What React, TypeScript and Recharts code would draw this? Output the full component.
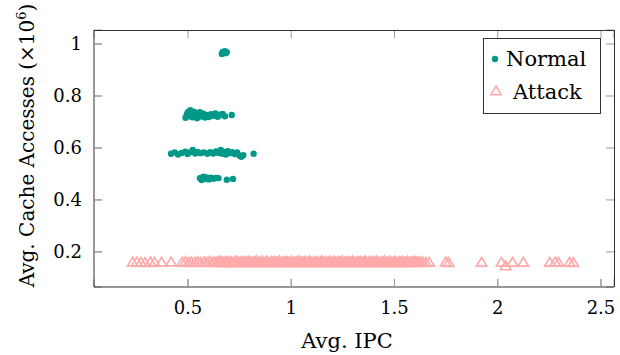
import React from 'react';
import { ScatterChart, Scatter, XAxis, YAxis, Label, Legend, CartesianGrid } from 'recharts';

const xTicks = [0.5, 1, 1.5, 2, 2.5];
const yTicks = [0.2, 0.4, 0.6, 0.8, 1];
const xDomain = [0.045, 2.563];
const yDomain = [0.065, 1.054];

// [avg IPC, avg cache accesses (x10^6)]
const normalPoints: [number, number][] = [
  [0.664, 0.962], [0.668, 0.970], [0.674, 0.966], [0.679, 0.972], [0.683, 0.965], [0.688, 0.969],
  [0.488, 0.716], [0.494, 0.728], [0.499, 0.738], [0.505, 0.722], [0.511, 0.745], [0.516, 0.731],
  [0.522, 0.718], [0.527, 0.740], [0.533, 0.726], [0.538, 0.736], [0.544, 0.714], [0.552, 0.729],
  [0.558, 0.738], [0.566, 0.721], [0.574, 0.732], [0.583, 0.717], [0.592, 0.727], [0.601, 0.719],
  [0.611, 0.730], [0.622, 0.724], [0.633, 0.733], [0.644, 0.720], [0.655, 0.728], [0.668, 0.731],
  [0.679, 0.722], [0.712, 0.727],
  [0.418, 0.578], [0.436, 0.583], [0.452, 0.575], [0.469, 0.581], [0.487, 0.586], [0.498, 0.577],
  [0.512, 0.584], [0.523, 0.592], [0.535, 0.579], [0.548, 0.585], [0.561, 0.580], [0.577, 0.583],
  [0.594, 0.578], [0.608, 0.584], [0.622, 0.579], [0.636, 0.587], [0.648, 0.581], [0.659, 0.592],
  [0.667, 0.578], [0.676, 0.585], [0.684, 0.575], [0.693, 0.588], [0.702, 0.580], [0.714, 0.584],
  [0.726, 0.577], [0.738, 0.583], [0.749, 0.571], [0.758, 0.566], [0.768, 0.572], [0.818, 0.578],
  [0.558, 0.484], [0.566, 0.477], [0.575, 0.489], [0.584, 0.481], [0.592, 0.487], [0.601, 0.479],
  [0.612, 0.486], [0.623, 0.482], [0.636, 0.485], [0.648, 0.484], [0.688, 0.478], [0.718, 0.481],
];

const attackPoints: [number, number][] = [
  // sparse left part
  [0.232, 0.160], [0.252, 0.161], [0.272, 0.160], [0.292, 0.159], [0.318, 0.161], [0.338, 0.160],
  [0.372, 0.160], [0.418, 0.161], [0.472, 0.160], [0.488, 0.162], [0.503, 0.159], [0.517, 0.161],
  [0.534, 0.160], [0.548, 0.162], [0.561, 0.159], [0.577, 0.161], [0.590, 0.160], [0.604, 0.163],
  [0.616, 0.159], [0.628, 0.161], [0.638, 0.160],
  // dense band
  [0.647, 0.162], [0.654, 0.159], [0.661, 0.164], [0.669, 0.160], [0.676, 0.158], [0.684, 0.162],
  [0.691, 0.161], [0.698, 0.159], [0.706, 0.163], [0.713, 0.160], [0.721, 0.158], [0.728, 0.162],
  [0.735, 0.165], [0.743, 0.160], [0.750, 0.159], [0.758, 0.162], [0.765, 0.160], [0.772, 0.163],
  [0.780, 0.158], [0.787, 0.161], [0.795, 0.164], [0.802, 0.160], [0.809, 0.159], [0.817, 0.162],
  [0.824, 0.160], [0.831, 0.165], [0.839, 0.158], [0.846, 0.161], [0.854, 0.160], [0.861, 0.163],
  [0.868, 0.159], [0.876, 0.161], [0.883, 0.164], [0.891, 0.160], [0.898, 0.158], [0.905, 0.162],
  [0.913, 0.160], [0.920, 0.163], [0.927, 0.159], [0.935, 0.161], [0.942, 0.165], [0.950, 0.160],
  [0.957, 0.158], [0.964, 0.162], [0.972, 0.160], [0.979, 0.163], [0.987, 0.159], [0.994, 0.161],
  [1.001, 0.164], [1.009, 0.160], [1.016, 0.158], [1.024, 0.162], [1.031, 0.160], [1.038, 0.165],
  [1.046, 0.159], [1.053, 0.161], [1.060, 0.160], [1.068, 0.163], [1.075, 0.158], [1.083, 0.161],
  [1.090, 0.164], [1.097, 0.160], [1.105, 0.159], [1.112, 0.162], [1.120, 0.160], [1.127, 0.163],
  [1.134, 0.158], [1.142, 0.161], [1.149, 0.165], [1.156, 0.160], [1.164, 0.159], [1.171, 0.162],
  [1.179, 0.160], [1.186, 0.163], [1.193, 0.158], [1.201, 0.161], [1.208, 0.164], [1.216, 0.160],
  [1.223, 0.159], [1.230, 0.162], [1.238, 0.160], [1.245, 0.165], [1.252, 0.158], [1.260, 0.161],
  [1.267, 0.160], [1.275, 0.163], [1.282, 0.159], [1.289, 0.161], [1.297, 0.164], [1.304, 0.160],
  [1.312, 0.158], [1.319, 0.162], [1.326, 0.160], [1.334, 0.163], [1.341, 0.159], [1.348, 0.161],
  [1.356, 0.165], [1.363, 0.160], [1.371, 0.158], [1.378, 0.162], [1.385, 0.160], [1.393, 0.163],
  [1.400, 0.159], [1.408, 0.161], [1.415, 0.164], [1.422, 0.160], [1.430, 0.158], [1.437, 0.162],
  [1.444, 0.160], [1.452, 0.165], [1.459, 0.159], [1.467, 0.161], [1.474, 0.160], [1.481, 0.163],
  [1.489, 0.158], [1.496, 0.161], [1.504, 0.164], [1.511, 0.160], [1.518, 0.159], [1.526, 0.162],
  [1.533, 0.160], [1.540, 0.163], [1.548, 0.158], [1.555, 0.161], [1.563, 0.164], [1.570, 0.160],
  [1.577, 0.159], [1.585, 0.162], [1.592, 0.160], [1.600, 0.163], [1.607, 0.159], [1.614, 0.161],
  [1.622, 0.160], [1.631, 0.162], [1.640, 0.159], [1.652, 0.160],
  // sparse right part
  [1.668, 0.160], [1.748, 0.161], [1.762, 0.159], [1.922, 0.160], [2.018, 0.160], [2.038, 0.146],
  [2.072, 0.160], [2.124, 0.160], [2.252, 0.160], [2.278, 0.161], [2.294, 0.160], [2.348, 0.160],
  [2.366, 0.159],
];

const NORMAL = '#009988';
const ATTACK = '#ffaaaa';
const FONT = '"DejaVu Serif", serif';
const AXIS = '#333';
const TICK = '#999';

// plot box: 620x355 chart minus margins and axis sizes
const PLOT = { left: 94, top: 30, width: 520, height: 257 };

const normalData = normalPoints.map(([x, y]) => ({ x, y }));
const attackData = attackPoints.map(([x, y]) => ({ x, y }));

const Dot = (props: any) => <circle cx={props.cx} cy={props.cy} r={3.2} fill={NORMAL} />;

const Tri = (props: any) => {
  const { cx, cy } = props;
  return (
    <polygon
      points={`${cx},${cy - 5} ${cx + 5.2},${cy + 3.8} ${cx - 5.2},${cy + 3.8}`}
      fill="none"
      stroke={ATTACK}
      strokeWidth={1.7}
    />
  );
};

const tickStyle = { fontFamily: FONT, fontSize: 18, fill: '#000' };

const YTitle = (props: any) => {
  const vb = props.viewBox;
  const x = vb.x;
  const y = vb.y + vb.height / 2 - 13;
  return (
    <text
      x={x}
      y={y}
      transform={`rotate(-90, ${x}, ${y})`}
      textAnchor="middle"
      fontFamily={FONT}
      fontSize={20}
      fill="#000"
    >
      Avg. Cache Accesses (×10<tspan dy={-8} fontSize={13}>6</tspan>
      <tspan dy={8}>)</tspan>
    </text>
  );
};

const XTitle = (props: any) => {
  const vb = props.viewBox;
  return (
    <text
      x={vb.x + vb.width / 2 - 7}
      y={vb.y + 61}
      textAnchor="middle"
      fontFamily={FONT}
      fontSize={21}
      fill="#000"
    >
      Avg. IPC
    </text>
  );
};

const LegendBox = () => (
  <svg width={118} height={76} style={{ display: 'block' }}>
    <rect x={0.5} y={0.5} width={117} height={75} fill="#fff" stroke={AXIS} />
    <circle cx={12} cy={21} r={3.2} fill={NORMAL} />
    <text x={23} y={28} fontFamily={FONT} fontSize={21} fill="#000">Normal</text>
    <polygon points="13,48 18,56.7 8,56.7" fill="#fff" stroke={ATTACK} strokeWidth={1.6} />
    <text x={30} y={61} fontFamily={FONT} fontSize={21} fill="#000">Attack</text>
  </svg>
);

export default function App() {
  return (
    <div style={{ position: 'absolute', left: 0, top: 0, width: 620, height: 355, background: '#fff' }}>
      <ScatterChart width={620} height={355} margin={{ top: 30, right: 6, left: 34, bottom: 18 }}>
        {/* inward tick marks on the top and bottom / left and right edges */}
        <CartesianGrid
          horizontal={false}
          stroke={TICK}
          strokeDasharray={`8 ${PLOT.height - 16} 8`}
        />
        <CartesianGrid
          vertical={false}
          stroke={TICK}
          strokeDasharray={`8 ${PLOT.width - 16} 8`}
        />
        <XAxis
          type="number"
          dataKey="x"
          domain={xDomain}
          ticks={xTicks}
          allowDataOverflow
          height={50}
          tickSize={-8}
          tickMargin={22}
          tick={tickStyle}
          axisLine={{ stroke: AXIS }}
          tickLine={{ stroke: TICK }}
        >
          <Label content={<XTitle />} />
        </XAxis>
        <YAxis
          type="number"
          dataKey="y"
          domain={yDomain}
          ticks={yTicks}
          allowDataOverflow
          width={60}
          tickSize={-8}
          tickMargin={20}
          tick={tickStyle}
          axisLine={{ stroke: AXIS }}
          tickLine={{ stroke: TICK }}
        >
          <Label content={<YTitle />} />
        </YAxis>
        <Legend
          layout="vertical"
          align="center"
          verticalAlign="middle"
          content={<LegendBox />}
          wrapperStyle={{ left: 483, top: 38, width: 118, height: 76 }}
        />
        <Scatter name="Normal" data={normalData} shape={<Dot />} isAnimationActive={false} />
        <Scatter name="Attack" data={attackData} shape={<Tri />} isAnimationActive={false} />
      </ScatterChart>
      {/* top and right edges of the axis box */}
      <div
        style={{
          position: 'absolute',
          left: PLOT.left,
          top: PLOT.top,
          width: PLOT.width + 1,
          height: PLOT.height,
          boxSizing: 'border-box',
          borderTop: `1px solid ${AXIS}`,
          borderRight: `1px solid ${AXIS}`,
          pointerEvents: 'none',
        }}
      />
    </div>
  );
}
